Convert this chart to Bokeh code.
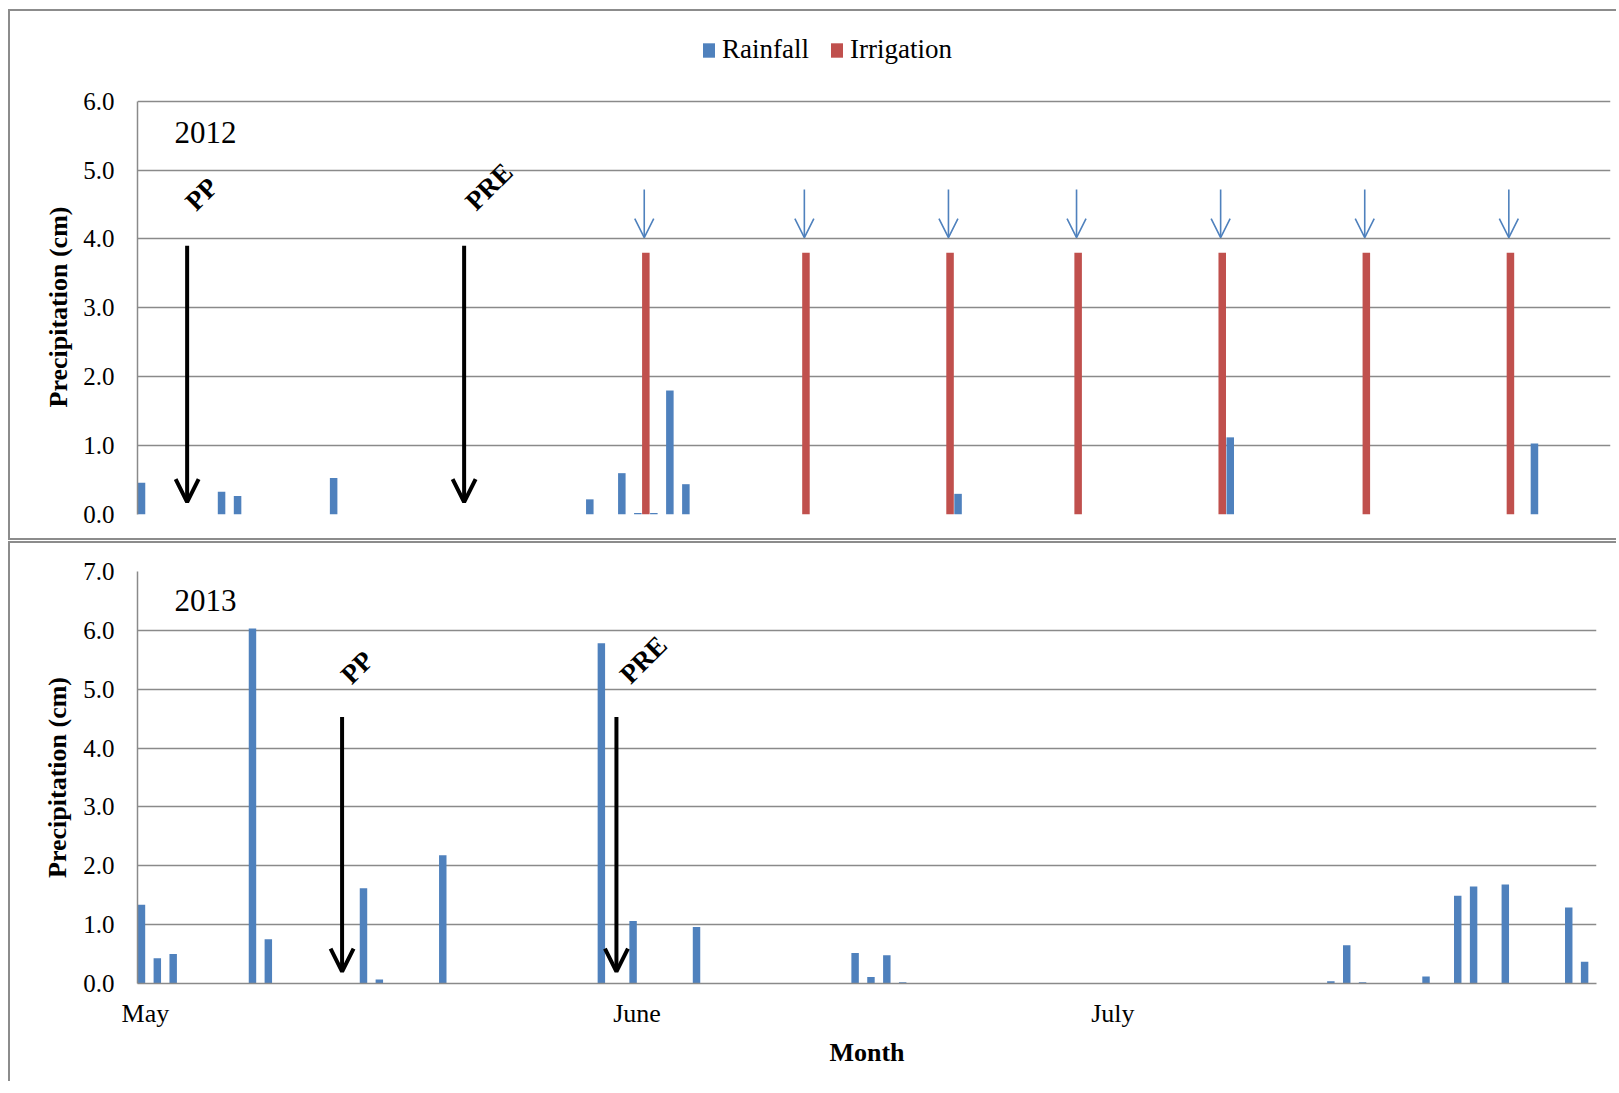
import math
from bokeh.plotting import figure
from bokeh.models import (Range1d, FixedTicker, PrintfTickFormatter, Legend, LegendItem,
                          Arrow, OpenHead, Label, BoxAnnotation, ColumnDataSource, Title)
from bokeh.layouts import column
from bokeh.embed import file_html
from bokeh.resources import INLINE

# ---------------- data ----------------
n_days = 92                      # 1 May .. 31 July (day index 0 = 1 May)
month_names = ["May", "June", "July"]
month_start_day = [0, 31, 61]

rain_2012_day = [0, 5, 6, 12, 28, 30, 31, 32, 33, 34, 51, 68, 87]
rain_2012_cm = [0.46, 0.33, 0.27, 0.53, 0.22, 0.60, 0.02, 0.02, 1.80, 0.44, 0.30, 1.12, 1.03]
irrig_2012_day = [31, 41, 50, 58, 67, 76, 85]
irrig_2012_cm = [3.8, 3.8, 3.8, 3.8, 3.8, 3.8, 3.8]

rain_2013_day = [0, 1, 2, 7, 8, 14, 15, 19, 29, 31, 35, 45, 46, 47, 48, 75, 76, 77, 81, 83, 84, 86, 90, 91]
rain_2013_cm = [1.34, 0.43, 0.50, 6.03, 0.75, 1.62, 0.07, 2.18, 5.78, 1.06, 0.96, 0.52, 0.11, 0.48, 0.02,
                0.04, 0.65, 0.02, 0.12, 1.49, 1.65, 1.68, 1.29, 0.37]

# timing of herbicide applications (day index)
pp_2012_day, pre_2012_day = 3.1, 20.4
pp_2013_day, pre_2013_day = 12.9, 30.2
y_ticks_2012 = [0, 1, 2, 3, 4, 5, 6]
y_ticks_2013 = [0, 1, 2, 3, 4, 5, 6, 7]
y_title = "Precipitation (cm)"

# ---------------- style ----------------
BLUE = "#4f81bd"
RED = "#c0504d"
GRID = "#8a8a8a"
SERIF = "Liberation Serif"
BORDER = "2px solid #8c8c8c"


def base_fig(frame_w, frame_h, yticks, y_end, top, bottom, right):
    p = figure(frame_width=frame_w, frame_height=frame_h, output_backend="svg", toolbar_location=None,
               title=None, x_range=Range1d(0, n_days), y_range=Range1d(yticks[0], y_end),
               min_border_left=127, min_border_right=right, min_border_top=top, min_border_bottom=bottom,
               background_fill_color="white", border_fill_color="white")
    p.outline_line_color = None
    p.xgrid.grid_line_color = None
    p.ygrid.grid_line_color = GRID
    p.ygrid.grid_line_width = 1.5
    p.ygrid.ticker = FixedTicker(ticks=yticks)
    p.yaxis.ticker = FixedTicker(ticks=yticks)
    p.yaxis.bounds = (yticks[0], yticks[-1])
    p.yaxis.formatter = PrintfTickFormatter(format="%.1f")
    p.yaxis.major_tick_line_color = None
    p.yaxis.minor_tick_line_color = None
    p.yaxis.axis_line_color = GRID
    p.yaxis.axis_line_width = 1.5
    p.yaxis.major_label_text_font = SERIF
    p.yaxis.major_label_text_font_size = "25px"
    p.yaxis.major_label_text_color = "black"
    p.yaxis.major_label_standoff = 17
    return p


def black_arrow(p, x, y0, y1):
    p.add_layout(Arrow(end=OpenHead(size=23, line_width=4, line_color="black"),
                       x_start=x, y_start=y0, x_end=x, y_end=y1,
                       line_width=4, line_color="black"))


def rot_label(p, x, y, txt):
    p.add_layout(Label(x=x, y=y, text=txt, angle=math.pi / 4, text_align="center", text_baseline="middle",
                       text_font=SERIF, text_font_style="bold", text_font_size="27px", text_color="black"))


# ---------------- 2012 ----------------
# frame extends up to the top of the chart box so the legend can sit inside it
px_per_cm_2012 = 410 / 6
frame_h_2012 = 499
p1 = base_fig(1471, frame_h_2012, y_ticks_2012, frame_h_2012 / px_per_cm_2012, top=0, bottom=28, right=8)
p1.xaxis.visible = False
# y title placed alongside the 0-6 part of the axis only
p1.add_layout(Title(text=y_title, align="left", offset=107, vertical_align="middle", standoff=14,
                    text_font=SERIF, text_font_style="bold", text_font_size="26px",
                    text_color="black"), "left")

src_r12 = ColumnDataSource(dict(x=[d + 0.25 for d in rain_2012_day], top=rain_2012_cm))
src_i12 = ColumnDataSource(dict(x=[d + 0.75 for d in irrig_2012_day], top=irrig_2012_cm))
r_rain = p1.vbar(x="x", top="top", width=0.47, source=src_r12, fill_color=BLUE, line_color=None)
r_irr = p1.vbar(x="x", top="top", width=0.47, source=src_i12, fill_color=RED, line_color=None)

for d in irrig_2012_day:
    p1.add_layout(Arrow(end=OpenHead(size=19, line_width=1.6, line_color=BLUE),
                        x_start=d + 0.65, y_start=4.72, x_end=d + 0.65, y_end=4.02,
                        line_width=1.6, line_color=BLUE))

black_arrow(p1, pp_2012_day, 3.9, 0.18)
black_arrow(p1, pre_2012_day, 3.9, 0.18)
rot_label(p1, 4.0, 4.65, "PP")
rot_label(p1, 21.95, 4.76, "PRE")
p1.add_layout(Label(x=2.31, y=5.54, text="2012", text_font=SERIF, text_font_size="31px",
                    text_color="black", text_baseline="middle"))

legend = Legend(items=[LegendItem(label="Rainfall", renderers=[r_rain]),
                       LegendItem(label="Irrigation", renderers=[r_irr])],
                location=(564, 449), orientation="horizontal", border_line_color=None,
                background_fill_alpha=0, padding=0, margin=0, spacing=20,
                glyph_width=15, glyph_height=18, label_standoff=6,
                label_text_font=SERIF, label_text_font_size="27px", label_text_color="black")
p1.add_layout(legend)
p1.styles = {"border-top": BORDER, "border-left": BORDER, "border-bottom": BORDER}

# ---------------- 2013 ----------------
p2 = base_fig(1457, 410, y_ticks_2013, y_ticks_2013[-1], top=28, bottom=100, right=22)
p2.yaxis.axis_label = y_title
p2.yaxis.axis_label_text_font = SERIF
p2.yaxis.axis_label_text_font_style = "bold"
p2.yaxis.axis_label_text_font_size = "26px"
p2.yaxis.axis_label_text_color = "black"
p2.yaxis.axis_label_standoff = 8

src_r13 = ColumnDataSource(dict(x=[d + 0.25 for d in rain_2013_day], top=rain_2013_cm))
p2.vbar(x="x", top="top", width=0.47, source=src_r13, fill_color=BLUE, line_color=None)
p2.xaxis.ticker = FixedTicker(ticks=[d + 0.5 for d in month_start_day])
p2.xaxis.major_label_overrides = {d + 0.5: m for d, m in zip(month_start_day, month_names)}
p2.xaxis.major_tick_line_color = None
p2.xaxis.minor_tick_line_color = None
p2.xaxis.axis_line_color = GRID
p2.xaxis.axis_line_width = 1.5
p2.xaxis.major_label_text_font = SERIF
p2.xaxis.major_label_text_font_size = "26px"
p2.xaxis.major_label_text_color = "black"
p2.xaxis.major_label_standoff = 9
p2.xaxis.axis_label = "Month"
p2.xaxis.axis_label_text_font = SERIF
p2.xaxis.axis_label_text_font_style = "bold"
p2.xaxis.axis_label_text_font_size = "26px"
p2.xaxis.axis_label_text_color = "black"
p2.xaxis.axis_label_standoff = 7

# white text-box background of the "2013" label (hides part of the top grid line)
p2.add_layout(BoxAnnotation(left=0.15, right=8.6, bottom=6.3, top=7.3, fill_color="white", fill_alpha=1.0,
                            line_color=None))
black_arrow(p2, pp_2013_day, 4.53, 0.2)
black_arrow(p2, pre_2013_day, 4.53, 0.2)
rot_label(p2, 13.85, 5.37, "PP")
rot_label(p2, 31.9, 5.50, "PRE")
p2.add_layout(Label(x=2.34, y=6.50, text="2013", text_font=SERIF, text_font_size="31px",
                    text_color="black", text_baseline="middle"))
p2.styles = {"border-top": BORDER, "border-left": BORDER, "margin-top": "1px"}

layout = column(p1, p2, margin=(9, 0, 0, 8))

open("out.html", "w").write(file_html(layout, INLINE))
